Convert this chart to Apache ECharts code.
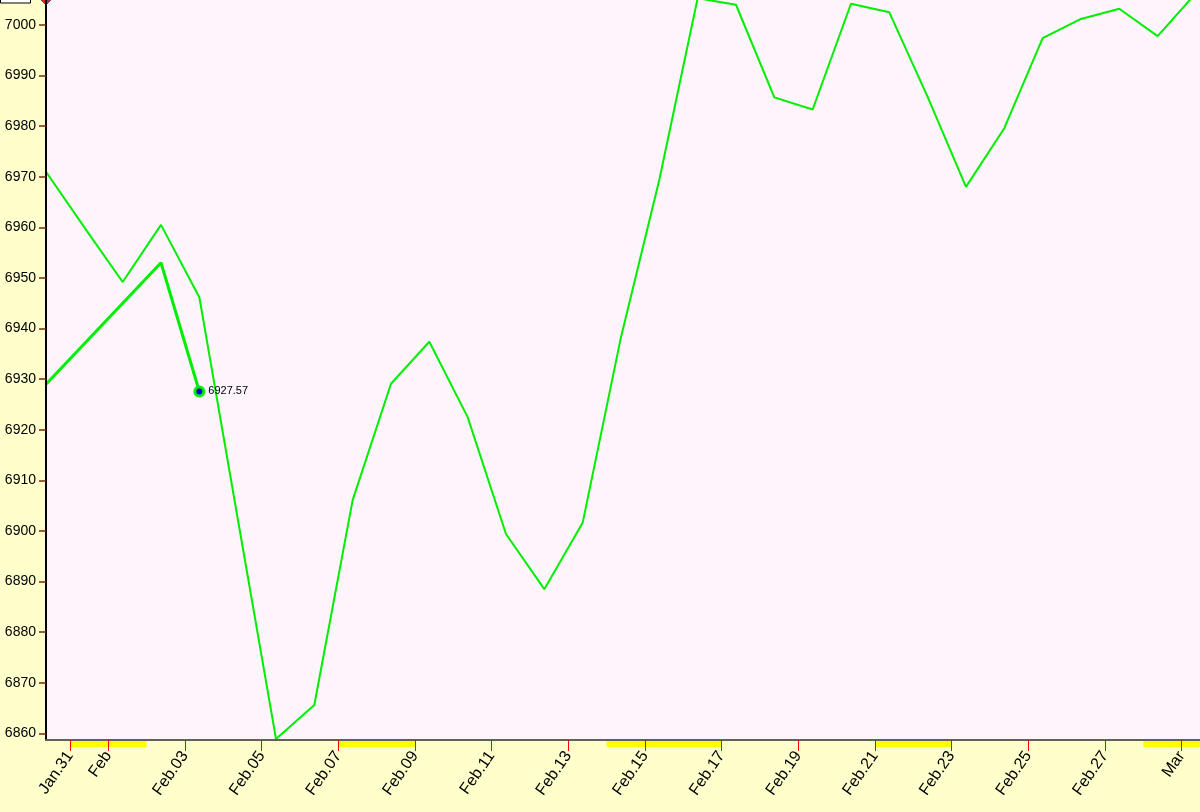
<!DOCTYPE html>
<html>
<head>
<meta charset="utf-8">
<script src="https://cdn.jsdelivr.net/npm/echarts@6/dist/echarts.min.js"></script>
<style>
  html, body { margin: 0; padding: 0; background: #ffffcc; }
  #chart { width: 1200px; height: 812px; }
</style>
</head>
<body>
<div id="chart"></div>
<script>
// one sample per day, taken at 09:00
const dates = ['Jan.30', 'Jan.31', 'Feb.01', 'Feb.02', 'Feb.03', 'Feb.04', 'Feb.05', 'Feb.06', 'Feb.07', 'Feb.08',
  'Feb.09', 'Feb.10', 'Feb.11', 'Feb.12', 'Feb.13', 'Feb.14', 'Feb.15', 'Feb.16', 'Feb.17', 'Feb.18',
  'Feb.19', 'Feb.20', 'Feb.21', 'Feb.22', 'Feb.23', 'Feb.24', 'Feb.25', 'Feb.26', 'Feb.27', 'Feb.28', 'Mar.01']
const mainValues = [6971.0, 6960.0, 6949.2, 6960.5, 6946.2, 6902.5, 6858.9, 6865.6, 6906.1, 6929.1,
  6937.4, 6922.5, 6899.4, 6888.5, 6901.6, 6938.3, 6969.4, 7005.3, 7004.0, 6985.7,
  6983.3, 7004.2, 7002.5, 6985.8, 6968.0, 6979.6, 6997.4, 7001.2, 7003.2, 6997.8, 7006.3]
const pathValues = [6929.0, 6937.0, 6945.0, 6953.0, 6927.57]

// x axis: days counted from Jan.31 00:00
const tickDays = [0, 1, 3, 5, 7, 9, 11, 13, 15, 17, 19, 21, 23, 25, 27, 29]
const tickLabels = ['Jan.31', 'Feb', 'Feb.03', 'Feb.05', 'Feb.07', 'Feb.09', 'Feb.11', 'Feb.13', 'Feb.15',
  'Feb.17', 'Feb.19', 'Feb.21', 'Feb.23', 'Feb.25', 'Feb.27', 'Mar']
const minorTickDays = [2, 4, 6, 8, 10, 12, 14, 16, 18, 20, 22, 24, 26, 28]
const edgeTickDays = [0, 7, 17, 21]
const offDays = [[0, 2], [7, 9], [14, 17], [21, 23], [28, 30]]

const majorY = [6860, 6870, 6880, 6890, 6900, 6910, 6920, 6930, 6940, 6950, 6960, 6970, 6980, 6990, 7000]
const minorY = [6865, 6875, 6885, 6895, 6905, 6915, 6925, 6935, 6945, 6955, 6965, 6975, 6985, 6995]

const dayOffset = i => i - 15 / 24
const xMin = -0.625
const xMax = 29.48
const yMin = 6858.68
const yMax = 7004.94

const chart = echarts.init(document.getElementById('chart'))
const font = 'Liberation Sans, Arial, sans-serif'

chart.setOption({
  animation: false,
  backgroundColor: '#ffffcc',
  grid: [
    { left: 46, right: 0, top: 0, bottom: 72, show: true, backgroundColor: '#fdf4fc', borderWidth: 0 },
    { left: 46, right: 0, top: 741, height: 6, show: false }
  ],
  xAxis: [
    {
      type: 'value', gridIndex: 0, min: xMin, max: xMax, z: 10,
      axisLine: { show: true, onZero: false, lineStyle: { color: '#606060', width: 2 } },
      axisTick: { show: true, customValues: tickDays, length: 11, lineStyle: { color: '#ff0000', width: 1 } },
      axisLabel: {
        customValues: tickDays, rotate: 55, margin: 13, fontSize: 16, fontFamily: font, color: '#000',
        formatter: v => tickLabels[tickDays.indexOf(v)] || ''
      },
      splitLine: { show: false }
    },
    {
      type: 'value', gridIndex: 0, min: xMin, max: xMax, z: 11,
      axisLine: { show: false, onZero: false },
      axisTick: { show: true, customValues: minorTickDays, length: 4, lineStyle: { color: '#000', width: 1 } },
      axisLabel: { show: false },
      splitLine: { show: false }
    },
    {
      type: 'value', gridIndex: 0, min: xMin, max: xMax, z: 12,
      axisLine: { show: false, onZero: false },
      axisTick: { show: true, customValues: edgeTickDays, length: 11, lineStyle: { color: '#d08840', width: 2 } },
      axisLabel: { show: false },
      splitLine: { show: false }
    },
    { type: 'value', gridIndex: 1, min: xMin, max: xMax, show: false }
  ],
  yAxis: [
    {
      type: 'value', gridIndex: 0, min: yMin, max: yMax, z: 10,
      axisLine: { show: true, onZero: false, lineStyle: { color: '#000', width: 2 } },
      axisTick: { show: true, customValues: majorY, length: 7, lineStyle: { color: '#7a2a10', width: 1.5 } },
      axisLabel: {
        customValues: majorY, fontSize: 14, fontFamily: font, color: '#000', margin: 10,
        formatter: v => String(v)
      },
      splitLine: { show: false }
    },
    {
      type: 'value', gridIndex: 0, min: yMin, max: yMax, z: 10,
      axisLine: { show: false, onZero: false },
      axisTick: { show: true, customValues: minorY, length: 4, lineStyle: { color: '#e00000', width: 1 } },
      axisLabel: { show: false },
      splitLine: { show: false }
    },
    { type: 'value', gridIndex: 1, min: 0, max: 1, show: false }
  ],
  series: [
    {
      name: 'off days', type: 'line', xAxisIndex: 3, yAxisIndex: 2, z: 1,
      data: [[0, 0]], showSymbol: false, symbol: 'none', lineStyle: { opacity: 0 },
      markArea: {
        silent: true,
        itemStyle: { color: '#ffff00' },
        data: offDays.map(r => [{ xAxis: r[0] }, { xAxis: r[1] }])
      }
    },
    {
      name: 'main', type: 'line', xAxisIndex: 0, yAxisIndex: 0, z: 3,
      data: mainValues.map((v, i) => [dayOffset(i), v]),
      symbol: 'none',
      lineStyle: { color: '#00ee00', width: 2 },
      itemStyle: { color: '#00ee00' }
    },
    {
      name: 'path', type: 'line', xAxisIndex: 0, yAxisIndex: 0, z: 4,
      data: pathValues.map((v, i) => {
        const last = i === pathValues.length - 1
        return last ? {
          value: [dayOffset(i), v], symbol: 'circle', symbolSize: 9,
          itemStyle: { color: '#0000ff', borderColor: '#00ee00', borderWidth: 3 },
          label: {
            show: true, position: 'right', distance: 3, fontSize: 11, fontFamily: font, color: '#000',
            formatter: p => p.value[1].toFixed(2)
          }
        } : { value: [dayOffset(i), v], symbol: 'none' }
      }),
      showSymbol: true,
      lineStyle: { color: '#00ee00', width: 3 },
      itemStyle: { color: '#00ee00' }
    }
  ],
  graphic: [
    { type: 'rect', shape: { x: 0.5, y: -10, width: 30, height: 13 }, style: { fill: '#fff', stroke: '#000', lineWidth: 1 } },
    { type: 'polygon', shape: { points: [[46, -5], [51, 0], [46, 5], [41, 0]] }, style: { fill: '#e02020', stroke: '#4060c0', lineWidth: 1 } }
  ]
})
</script>
</body>
</html>
